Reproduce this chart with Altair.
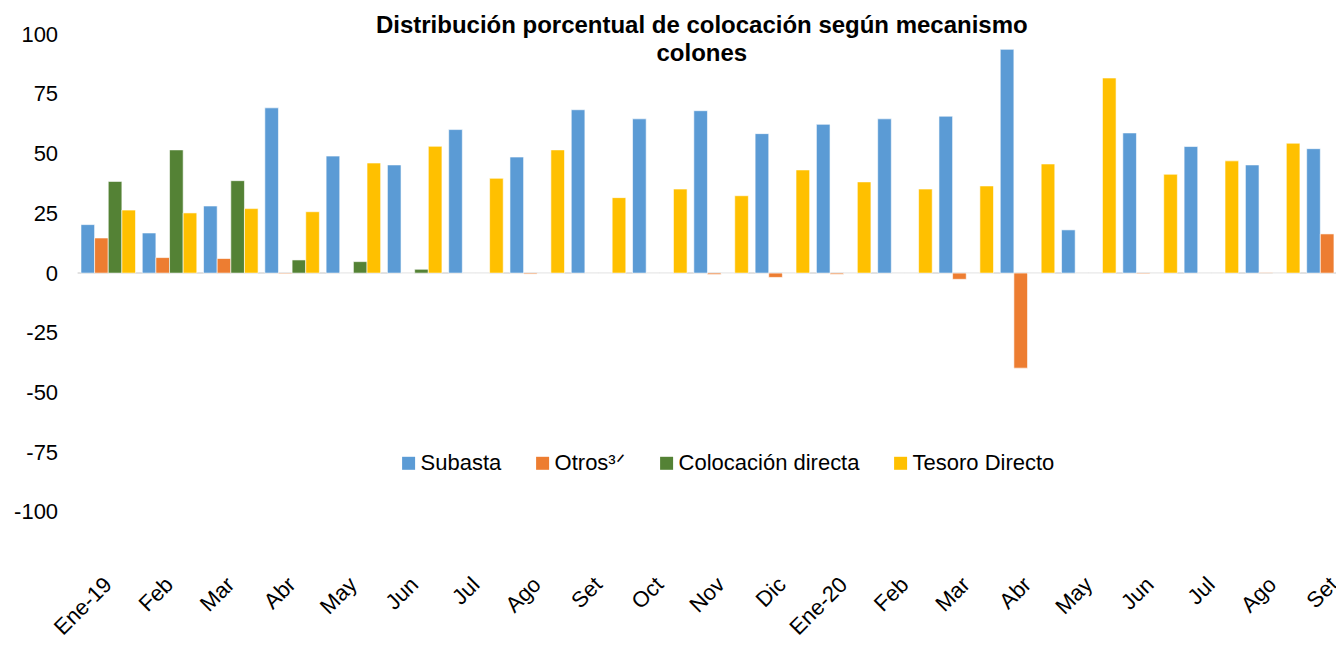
import altair as alt
import pandas as pd

months = ["Ene-19", "Feb", "Mar", "Abr", "May", "Jun", "Jul", "Ago", "Set", "Oct", "Nov", "Dic",
          "Ene-20", "Feb", "Mar", "Abr", "May", "Jun", "Jul", "Ago", "Set"]
series = ["Subasta", "Otros", "Colocación directa", "Tesoro Directo"]
colors = ["#5B9BD5", "#ED7D31", "#548235", "#FFC000"]

subasta = [20.3, 16.8, 28.1, 69.2, 49.0, 45.3, 60.1, 48.6, 68.4, 64.6, 68.0, 58.4,
           62.3, 64.6, 65.7, 93.7, 18.1, 58.7, 53.0, 45.3, 52.1]
otros = [14.7, 6.5, 6.1, -0.3, 0.0, 0.0, 0.0, -0.4, 0.0, 0.0, -0.6, -1.8,
         -0.5, 0.0, -2.6, -39.8, 0.0, -0.3, 0.0, 0.2, 16.4]
colocacion = [38.4, 51.6, 38.7, 5.5, 4.8, 1.6, 0.0, 0.0, 0.0, 0.0, 0.0, 0.0,
              0.0, 0.0, 0.0, 0.0, 0.0, 0.0, 0.0, 0.0, None]
tesoro = [26.4, 25.2, 27.0, 25.7, 46.1, 53.1, 39.7, 51.6, 31.6, 35.2, 32.4, 43.2,
          38.2, 35.2, 36.5, 45.7, 81.7, 41.4, 47.0, 54.4, None]
y_ticks = [-100, -75, -50, -25, 0, 25, 50, 75, 100]
title_lines = ["Distribución porcentual de colocación según mecanismo", "colones"]

rows = []
for i in range(len(months)):
    for s, vals in zip(series, [subasta, otros, colocacion, tesoro]):
        rows.append({"idx": i, "serie": s, "valor": vals[i]})
df = pd.DataFrame(rows)
zero_df = pd.DataFrame({"y": [0]})

FONT = "Liberation Sans"
label_expr = "[" + ",".join("'" + m + "'" for m in months) + "][datum.value]"

x_enc = alt.X(
    "idx:O", title=None,
    scale=alt.Scale(range=[0, 1287], paddingInner=0.11, paddingOuter=0.055),
    axis=alt.Axis(labelExpr=label_expr, labelAngle=-45, labelAlign="right",
                  labelBaseline="middle", labelPadding=9, domain=False, ticks=False,
                  tickSize=0, grid=False, labelFontSize=22, labelColor="black",
                  labelOverlap=False, labelBound=False, labelFlush=False, labelFont=FONT),
)

y_axis = alt.Axis(values=y_ticks, domain=False, ticks=False, tickSize=0, grid=False,
                  labelPadding=20, labelFontSize=22, labelColor="black", labelFont=FONT,
                  labelExpr="replace(datum.label, '\u2212', '-')")

bars = alt.Chart(df).mark_bar(stroke="white", strokeWidth=0.6).encode(
    x=x_enc,
    xOffset=alt.XOffset("serie:N", sort=series, scale=alt.Scale(paddingInner=0, paddingOuter=0)),
    y=alt.Y("valor:Q", title=None, scale=alt.Scale(domain=[-125, 100], nice=False), axis=y_axis),
    color=alt.Color(
        "serie:N", sort=series,
        scale=alt.Scale(domain=series, range=colors),
        legend=alt.Legend(
            title=None, orient="none", legendX=320, legendY=418, direction="horizontal",
            symbolType="square", symbolSize=169, symbolStrokeWidth=0, symbolOpacity=1,
            labelFontSize=22, labelColor="black", labelFont=FONT, columnPadding=30,
            labelOffset=1, padding=0, labelLimit=0,
            labelExpr="datum.label == 'Otros' ? 'Otros³ᐟ' : datum.label",
        ),
    ),
)

zero = alt.Chart(zero_df).mark_rule(color="#D9D9D9", strokeWidth=1.5).encode(
    y=alt.Y("y:Q", title=None, scale=alt.Scale(domain=[-125, 100], nice=False), axis=y_axis)
)

chart = alt.layer(zero, bars).properties(
    width=1258.4,
    height=537.3,
    autosize=alt.AutoSizeParams(type="none"),
    padding={"left": 69.6, "top": 26.3, "right": 0, "bottom": 65},
    title=alt.TitleParams(
        text=title_lines, fontSize=24, fontWeight="bold", font=FONT, color="black",
        anchor="middle", offset=-42.5, dx=-5, lineHeight=28,
    ),
).configure(font=FONT, background="white").configure_view(stroke="transparent", strokeWidth=0)

chart.save("out.html", embed_options={"renderer": "svg", "actions": False})
